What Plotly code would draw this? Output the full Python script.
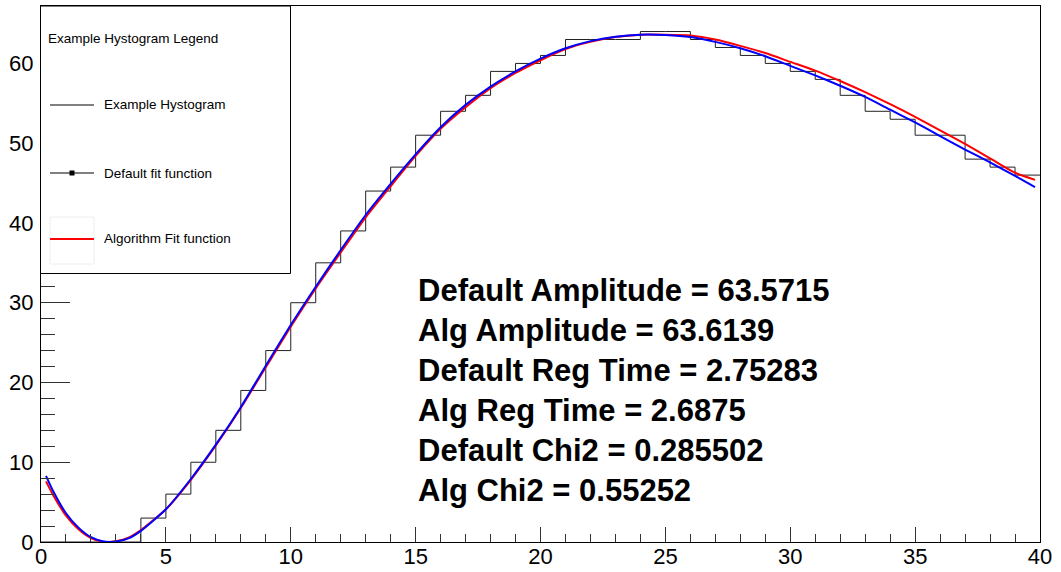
import plotly.graph_objects as go

# ---------------- data ----------------
bin_edges = list(range(0, 41))
hist_counts = [0, 0, 0, 0, 3, 6, 10, 14, 19, 24,
               30, 35, 39, 44, 47, 51, 54, 56, 59, 60,
               61, 63, 63, 63, 64, 64, 63, 62, 61, 60,
               59, 58, 56, 54, 53, 51, 51, 48, 47, 46]

default_x = [0.2, 0.5, 1, 1.5, 2, 2.5, 2.75, 3, 3.5, 4, 5, 6, 7, 8, 9, 10,
             11, 12, 13, 14, 15, 16, 17, 18, 19, 20, 21, 22, 23, 24, 25, 26,
             27, 28, 29, 30, 31, 32, 33, 34, 35, 36, 37, 38, 39, 39.8]
default_y = [8.3, 6.3, 3.6, 1.8, 0.6, 0.06, 0.0, 0.05, 0.45, 1.4, 4.1, 7.9, 12.2, 16.9, 22.1, 27.2,
             32.0, 36.6, 41.0, 44.9, 48.6, 52.0, 54.8, 57.1, 59.0, 60.6, 61.9, 62.8, 63.35, 63.6, 63.55, 63.3,
             62.7, 61.9, 60.9, 59.7, 58.5, 57.2, 55.8, 54.2, 52.6, 50.9, 49.2, 47.6, 45.9, 44.5]

alg_x = [0.2, 0.5, 1, 1.5, 2, 2.5, 2.69, 3, 3.5, 4, 5, 6, 7, 8, 9, 10,
         11, 12, 13, 14, 15, 16, 17, 18, 19, 20, 21, 22, 23, 24, 25, 26,
         27, 28, 29, 30, 31, 32, 33, 34, 35, 36, 37, 38, 39, 39.8]
alg_y = [7.6, 5.8, 3.3, 1.6, 0.5, 0.04, 0.0, 0.1, 0.55, 1.5, 4.1, 7.8, 12.1, 16.8, 21.9, 27.0,
         31.8, 36.3, 40.7, 44.6, 48.4, 51.8, 54.5, 56.9, 58.8, 60.4, 61.8, 62.7, 63.3, 63.6, 63.6, 63.5,
         63.0, 62.2, 61.3, 60.2, 59.1, 57.8, 56.4, 54.9, 53.3, 51.6, 49.9, 48.1, 46.3, 45.4]

stats_lines = ["Default Amplitude = 63.5715",
               "Alg Amplitude = 63.6139",
               "Default Reg Time = 2.75283",
               "Alg Reg Time = 2.6875",
               "Default Chi2 = 0.285502",
               "Alg Chi2 = 0.55252"]
stats_y = [31.5, 26.5, 21.5, 16.5, 11.5, 6.5]
stats_x = 15

legend_title = "Example Hystogram Legend"
legend_labels = ["Example Hystogram", "Default fit function", "Algorithm Fit function"]

x_ticks = [0, 5, 10, 15, 20, 25, 30, 35, 40]
y_ticks = [0, 10, 20, 30, 40, 50, 60]

# ---------------- figure ----------------
fig = go.Figure()

fig.add_trace(go.Scatter(
    x=bin_edges, y=hist_counts + [hist_counts[-1]],
    mode="lines", line=dict(color="#222222", width=1, shape="hv"),
    showlegend=False, hoverinfo="skip"))

fig.add_trace(go.Scatter(
    x=alg_x, y=alg_y, mode="lines",
    line=dict(color="#ff0000", width=2, shape="spline", smoothing=0.6),
    showlegend=False))

fig.add_trace(go.Scatter(
    x=default_x, y=default_y, mode="lines",
    line=dict(color="#0000ff", width=2, shape="spline", smoothing=0.6),
    showlegend=False))

for txt, yy in zip(stats_lines, stats_y):
    fig.add_annotation(x=stats_x, y=yy, xref="x", yref="y", text=txt,
                       showarrow=False, xanchor="left", yanchor="middle",
                       font=dict(family="Liberation Sans", size=31, color="black", weight="bold"))

# ---------------- legend box (drawn manually, ROOT style) ----------------
W, H = 1061, 572
ml, mr, mt, mb = 41, 21, 6, 30
pw, ph = W - ml - mr, H - mt - mb


def px(xp):
    return (xp - ml) / pw


def py(yp):
    return (H - mb - yp) / ph


fig.add_shape(type="rect", xref="paper", yref="paper",
              x0=px(40.5), x1=px(290.5), y0=py(273.5), y1=py(6),
              line=dict(color="black", width=1), fillcolor="white", layer="above")

fig.add_annotation(xref="paper", yref="paper", x=px(46), y=py(39), text=legend_title,
                   showarrow=False, xanchor="left", yanchor="middle",
                   font=dict(family="Liberation Sans", size=13.5, color="black"))

entry_y = [105, 173, 239]
# entry 1: histogram line
fig.add_shape(type="line", xref="paper", yref="paper", x0=px(50), x1=px(94),
              y0=py(entry_y[0]), y1=py(entry_y[0]), line=dict(color="black", width=1), layer="above")
# entry 2: line + square marker
fig.add_shape(type="line", xref="paper", yref="paper", x0=px(50), x1=px(94),
              y0=py(entry_y[1]), y1=py(entry_y[1]), line=dict(color="black", width=1), layer="above")
fig.add_shape(type="rect", xref="paper", yref="paper", x0=px(69.5), x1=px(74.5),
              y0=py(entry_y[1] + 2.5), y1=py(entry_y[1] - 2.5),
              line=dict(color="black", width=0), fillcolor="black", layer="above")
# entry 3: faint fill box + red line
fig.add_shape(type="rect", xref="paper", yref="paper", x0=px(50), x1=px(94),
              y0=py(264), y1=py(217), line=dict(color="#eeeeee", width=1),
              fillcolor="white", layer="above")
fig.add_shape(type="line", xref="paper", yref="paper", x0=px(50), x1=px(94),
              y0=py(entry_y[2]), y1=py(entry_y[2]), line=dict(color="#ff0000", width=2), layer="above")

for lab, ey in zip(legend_labels, entry_y):
    fig.add_annotation(xref="paper", yref="paper", x=px(102), y=py(ey), text=lab,
                       showarrow=False, xanchor="left", yanchor="middle",
                       font=dict(family="Liberation Sans", size=13.5, color="black"))

axis_font = dict(family="Liberation Sans", size=22, color="black")

fig.update_xaxes(range=[0, 40], tickvals=x_ticks, ticktext=[str(v) for v in x_ticks],
                 ticks="inside", ticklen=15, tickcolor="#333333", tickwidth=1,
                 minor=dict(dtick=1, ticks="inside", ticklen=8, tickcolor="#333333", tickwidth=1),
                 showline=True, linecolor="black", linewidth=1, mirror=True, automargin=False,
                 showgrid=False, zeroline=False, tickfont=axis_font, ticklabelstandoff=-5)
fig.update_yaxes(range=[0, 67.2], tickvals=y_ticks, ticktext=[str(v) for v in y_ticks],
                 ticks="inside", ticklen=29, tickcolor="#333333", tickwidth=1,
                 minor=dict(dtick=2, ticks="inside", ticklen=14, tickcolor="#333333", tickwidth=1),
                 showline=True, linecolor="black", linewidth=1, mirror=True, automargin=False,
                 showgrid=False, zeroline=False, tickfont=axis_font, ticklabelstandoff=2)

fig.update_layout(width=W, height=H, margin=dict(l=ml, r=mr, t=mt, b=mb, autoexpand=False),
                  paper_bgcolor="white", plot_bgcolor="white", showlegend=False)

fig.write_html("out.html")
